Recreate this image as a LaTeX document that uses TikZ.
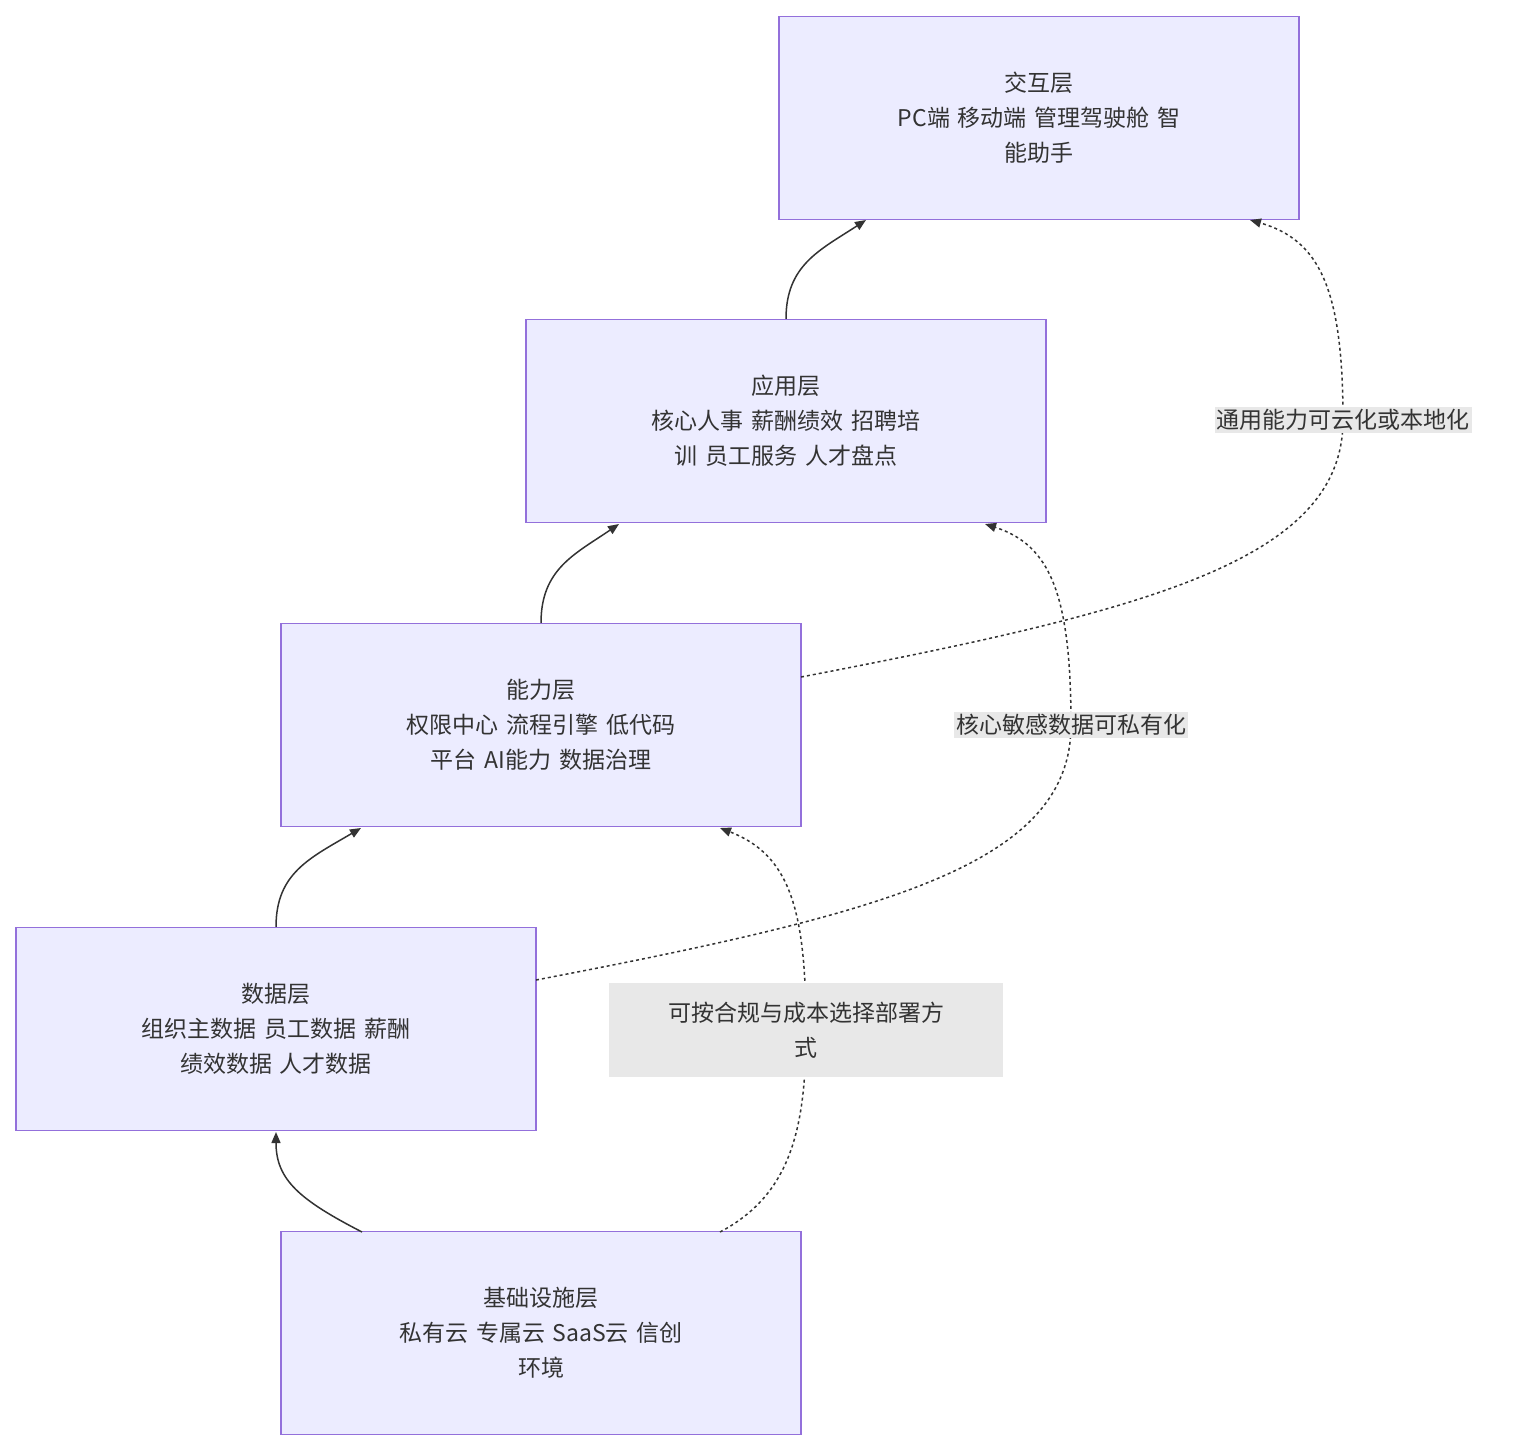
\documentclass[tikz,border=0pt]{standalone}
\usepackage{fontspec}
\setmainfont{Noto Sans CJK SC}
\usetikzlibrary{arrows.meta}
\definecolor{boxf}{HTML}{ECECFF}
\definecolor{boxd}{HTML}{9370DB}
\definecolor{ink}{HTML}{333333}
\definecolor{lbl}{HTML}{E8E8E8}
\begin{document}
\begin{tikzpicture}[x=1pt,y=-1pt,
 box/.style={draw=boxd,fill=boxf,line width=1.3pt,minimum width=520pt,minimum height=203pt,text width=400pt,align=center,font=\fontsize{23}{35}\selectfont,text=ink,inner sep=0},
 lab/.style={fill=lbl,font=\fontsize{23}{35}\selectfont,text=ink,align=center,inner sep=2pt},
 e/.style={draw=ink,line width=1.5pt,-{Triangle[length=11pt,width=9pt]}},
 d/.style={e,dash pattern=on 3pt off 3pt}]
\useasboundingbox (0,0) rectangle (1536,1452);
\node[box] (n1) at (1039,118) {交互层\\PC端 移动端 管理驾驶舱 智\\能助手};
\node[box] (n2) at (786,421) {应用层\\核心人事 薪酬绩效 招聘培\\训 员工服务 人才盘点};
\node[box] (n3) at (541,725) {能力层\\权限中心 流程引擎 低代码\\平台 AI能力 数据治理};
\node[box] (n4) at (276,1029) {数据层\\组织主数据 员工数据 薪酬\\绩效数据 人才数据};
\node[box] (n5) at (541,1333) {基础设施层\\私有云 专属云 SaaS云 信创\\环境};
\draw[e] (n2.north) .. controls (786,265) and (820,250) .. (866,220);
\draw[e] (n3.north) .. controls (541,569) and (575,554) .. (619,524);
\draw[e] (n4.north) .. controls (276,873) and (310,858) .. (361,828);
\draw[e] (362,1232) .. controls (300,1200) and (276,1180) .. (276,1132);
\coordinate (c1) at (1343,420);
\coordinate (c2) at (1071,725);
\coordinate (c3) at (806,1030);
\draw[d] (801,677) .. controls (1150,610) and (1343,560) .. (c1) .. controls (1343,290) and (1320,240) .. (1250,220);
\draw[d] (536,980) .. controls (885,913) and (1071,865) .. (c2) .. controls (1071,594) and (1050,545) .. (985,524);
\draw[d] (720,1232) .. controls (790,1195) and (806,1130) .. (c3) .. controls (806,910) and (790,855) .. (720,828);
\node[lab] (l1) at (c1) {通用能力可云化或本地化};
\node[lab] (l2) at (c2) {核心敏感数据可私有化};
\node[lab,text width=390pt,minimum height=94pt] (l3) at (c3) {可按合规与成本选择部署方\\式};
\end{tikzpicture}
\end{document}
